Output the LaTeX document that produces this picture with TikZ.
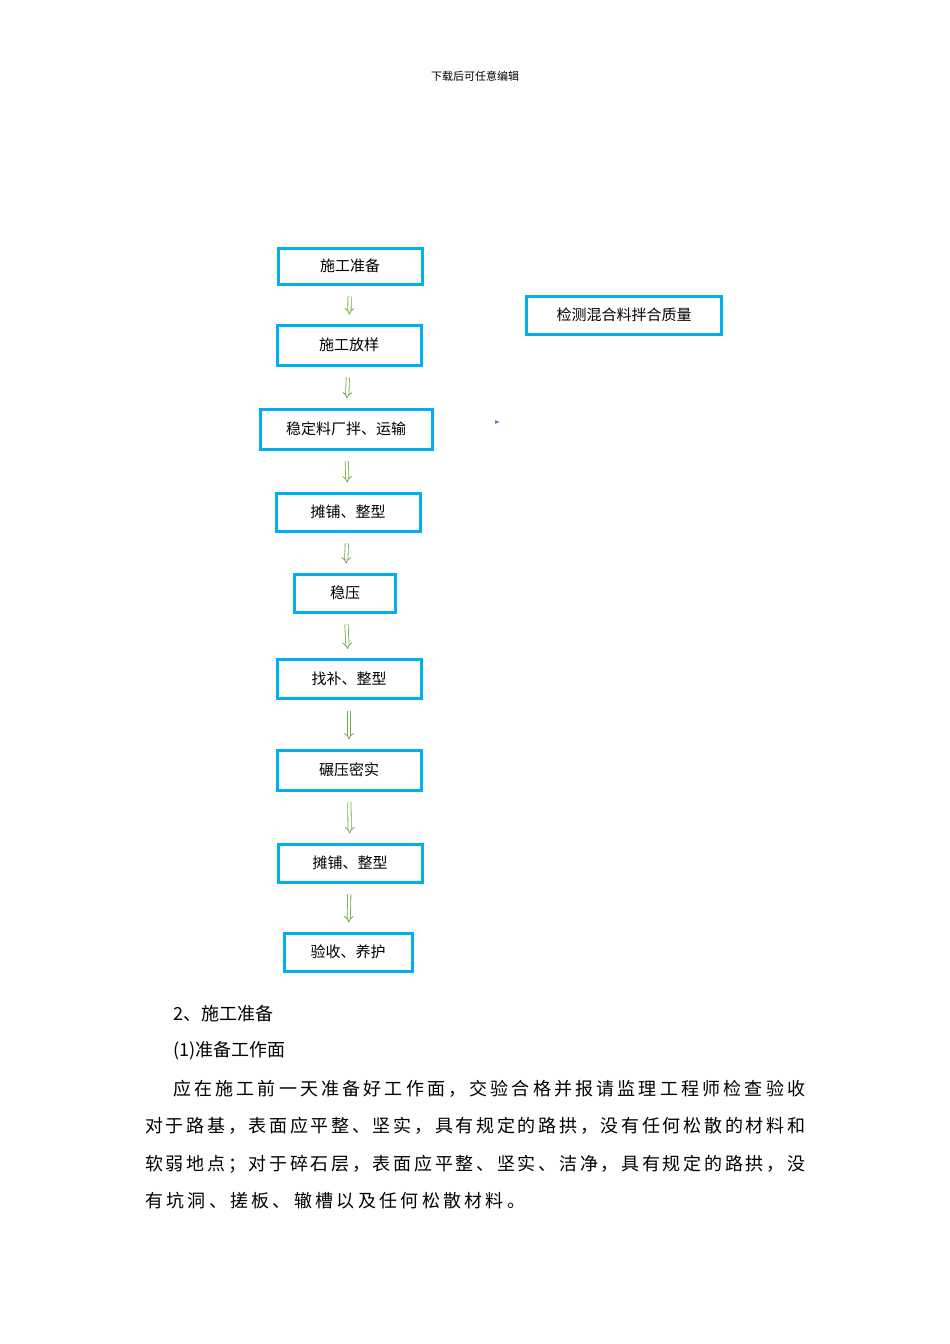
\documentclass[tikz,border=0pt]{standalone}
\usepackage{fontspec}
\setmainfont{Noto Sans CJK SC}
\usetikzlibrary{arrows.meta}
\definecolor{boxc}{RGB}{0,176,240}
\definecolor{arrg}{RGB}{112,173,71}
\definecolor{arrb}{RGB}{68,114,196}
\def\sprA#1{\ifx#1\relax\else#1\hfill\expandafter\sprA\fi}
\newcommand\spreadline[2]{\hbox to #1{\sprA #2\relax\unskip}}
\begin{document}
\begin{tikzpicture}[x=1pt,y=-1pt,
  stepbox/.style={draw=boxc,line width=3pt,minimum height=36pt,inner sep=0pt,font=\fontsize{15}{18}\selectfont},
  garr/.style={draw=arrg,double=white,double distance=2.5pt,line width=0.8pt,-{Implies},shorten <=11pt,shorten >=9pt},
  para/.style={anchor=west,inner sep=0pt,font=\fontsize{18}{22}\selectfont}]
\useasboundingbox (0,0) rectangle (950,1344);
\node[font=\fontsize{11}{13}\selectfont] (hdr) at (475,76) {下载后可任意编辑};
\node[stepbox,minimum width=144pt] (b1) at (350,266) {施工准备};
\node[stepbox,minimum width=144pt,minimum height=40pt] (b2) at (349,345) {施工放样};
\node[stepbox,minimum width=172pt,minimum height=40pt] (b3) at (346,429) {稳定料厂拌、运输};
\node[stepbox,minimum width=144pt,minimum height=38pt] (b4) at (348,512) {摊铺、整型};
\node[stepbox,minimum width=101pt,minimum height=38pt] (b5) at (345,593) {稳压};
\node[stepbox,minimum width=144pt,minimum height=39pt] (b6) at (349,679) {找补、整型};
\node[stepbox,minimum width=144pt,minimum height=40pt] (b7) at (349,770) {碾压密实};
\node[stepbox,minimum width=144pt,minimum height=38pt] (b8) at (350,863) {摊铺、整型};
\node[stepbox,minimum width=128pt,minimum height=38pt] (b9) at (348,952) {验收、养护};
\node[stepbox,minimum width=195pt,minimum height=38pt] (r1) at (624,315) {检测混合料拌合质量};
\foreach \a/\b in {b1/b2,b2/b3,b3/b4,b4/b5,b5/b6,b6/b7,b7/b8,b8/b9}
  \draw[garr] (\a) -- (\b);
\coordinate (ae) at (500,422);
\draw[draw=arrb,double=white,double distance=1.2pt,line width=0.7pt,-{Latex[length=5pt]}] (450,422) -- (ae);
\node[para] (t1) at (173,1014) {2、施工准备};
\node[para] (t2) at (173,1051) {(1)准备工作面};
\node[para] (t3) at (173,1089) {\spreadline{632pt}{应在施工前一天准备好工作面，交验合格并报请监理工程师检查验收}};
\node[para] (t4) at (145,1126) {\spreadline{660pt}{对于路基，表面应平整、坚实，具有规定的路拱，没有任何松散的材料和}};
\node[para] (t5) at (145,1164) {\spreadline{660pt}{软弱地点；对于碎石层，表面应平整、坚实、洁净，具有规定的路拱，没}};
\node[para] (t6) at (145,1201) {\spreadline{380pt}{有坑洞、搓板、辙槽以及任何松散材料。}};
\end{tikzpicture}
\end{document}
